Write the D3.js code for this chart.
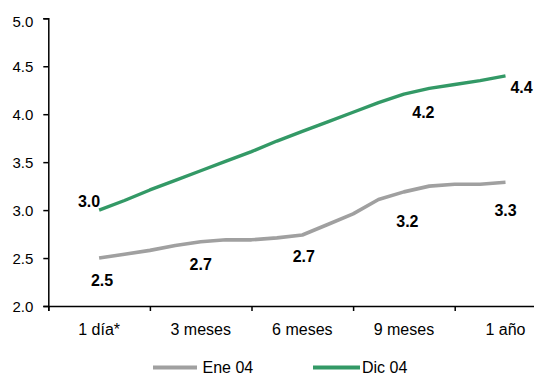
<!DOCTYPE html>
<html>
<head>
<meta charset="utf-8">
<script src="https://cdn.jsdelivr.net/npm/d3@7"></script>
<style>
  html, body { margin: 0; padding: 0; background: #fff; }
  svg { display: block; font-family: "Liberation Sans", Arial, sans-serif; }
</style>
</head>
<body>
<svg id="chart" width="534" height="376"></svg>
<script>
// Plazos mostrados en el eje (cada uno agrupa 4 pasos de la curva)
const categories = ["1 día*", "3 meses", "6 meses", "9 meses", "1 año"];
const stepsPerCategory = 4;

// Curvas de rendimiento (%)
const ene04 = [2.50, 2.54, 2.58, 2.63, 2.67, 2.69, 2.69, 2.71, 2.74, 2.85, 2.96, 3.11, 3.19, 3.25, 3.27, 3.27, 3.29];
const dic04 = [3.00, 3.10, 3.21, 3.31, 3.41, 3.51, 3.61, 3.72, 3.82, 3.92, 4.02, 4.12, 4.21, 4.27, 4.31, 4.35, 4.40];

const yTicks = [2.0, 2.5, 3.0, 3.5, 4.0, 4.5, 5.0];

// Pasos de la curva que llevan etiqueta de valor
const eneLabelSteps = [0, 4, 8, 12, 16];
const dicLabelSteps = [0, 12, 16];

// Desplazamiento de cada etiqueta respecto a su punto
const eneLabelOffsets = [[3, 28], [0, 28.5], [1.5, 27], [3.5, 35.5], [0, 33.5]];
const dicLabelOffsets = [[-10, -3.5], [19.5, 24], [16, 17]];

const series = [
  { name: "Ene 04", values: ene04, color: "#a0a0a0", width: 3.6, labels: eneLabelSteps, offsets: eneLabelOffsets },
  { name: "Dic 04", values: dic04, color: "#339966", width: 3.4, labels: dicLabelSteps, offsets: dicLabelOffsets }
];

const svg = d3.select("#chart");
const plotLeft = 48.3, plotTop = 18.3, plotBottom = 306;
const nSteps = categories.length * stepsPerCategory;
const half = stepsPerCategory / 2;

// Eje x continuo sobre los pasos; cada categoría ocupa una banda de 4 pasos
const x = d3.scaleLinear()
  .domain([-half, nSteps - half])
  .range([plotLeft, plotLeft + nSteps * 25.4]);
const y = d3.scaleLinear().domain([2, 5]).range([plotBottom, plotTop]);

// Eje y
const yAxis = svg.append("g")
  .attr("transform", `translate(${plotLeft},0)`)
  .call(d3.axisLeft(y).tickValues(yTicks).tickFormat(d3.format(".1f")).tickSizeOuter(0).tickSize(5).tickPadding(10));
yAxis.select(".domain").attr("stroke", "#000").attr("stroke-width", 1.5);
yAxis.selectAll(".tick line").attr("stroke", "#000").attr("stroke-width", 1.5);
yAxis.selectAll(".tick text")
  .attr("fill", "#000").attr("font-size", 15)
  .attr("dy", d => d === 5 ? "0.55em" : "0.36em");

// Eje x: marcas en los límites de banda, textos centrados en cada plazo
const boundaries = d3.range(0, categories.length).map(i => i * stepsPerCategory - half);
const xAxis = svg.append("g")
  .attr("transform", `translate(0,${plotBottom})`)
  .call(d3.axisBottom(x).tickValues(boundaries).tickFormat("").tickSizeOuter(0).tickSize(5));
xAxis.select(".domain").attr("stroke", "#000").attr("stroke-width", 1.5);
xAxis.selectAll(".tick line").attr("stroke", "#000").attr("stroke-width", 1.5);

svg.append("g")
  .selectAll("text")
  .data(categories)
  .join("text")
  .attr("x", (d, i) => x(i * stepsPerCategory))
  .attr("y", 335)
  .attr("text-anchor", "middle")
  .attr("font-size", 16)
  .attr("fill", "#000")
  .text(d => d);

// Líneas
const line = d3.line()
  .x((d, i) => x(i))
  .y(d => y(d));

svg.append("g")
  .selectAll("path")
  .data(series)
  .join("path")
  .attr("fill", "none")
  .attr("stroke", d => d.color)
  .attr("stroke-width", d => d.width)
  .attr("stroke-linejoin", "round")
  .attr("d", d => line(d.values));

// Etiquetas de valor
series.forEach(s => {
  svg.append("g")
    .selectAll("text")
    .data(s.labels)
    .join("text")
    .attr("x", (step, k) => x(step) + s.offsets[k][0])
    .attr("y", (step, k) => y(s.values[step]) + s.offsets[k][1])
    .attr("text-anchor", "middle")
    .attr("font-size", 16)
    .attr("font-weight", "bold")
    .attr("fill", "#000")
    .text(step => d3.format(".1f")(s.values[step]));
});

// Leyenda
const legendItems = [
  { s: series[0], x0: 153, x1: 197, tx: 202.5 },
  { s: series[1], x0: 313, x1: 360, tx: 362 }
];
const legend = svg.append("g");
legend.selectAll("line")
  .data(legendItems)
  .join("line")
  .attr("x1", d => d.x0).attr("x2", d => d.x1)
  .attr("y1", 367.5).attr("y2", 367.5)
  .attr("stroke", d => d.s.color)
  .attr("stroke-width", 4);
legend.selectAll("text")
  .data(legendItems)
  .join("text")
  .attr("x", d => d.tx)
  .attr("y", 372.5)
  .attr("font-size", 16)
  .attr("fill", "#000")
  .text(d => d.s.name);
</script>
</body>
</html>
